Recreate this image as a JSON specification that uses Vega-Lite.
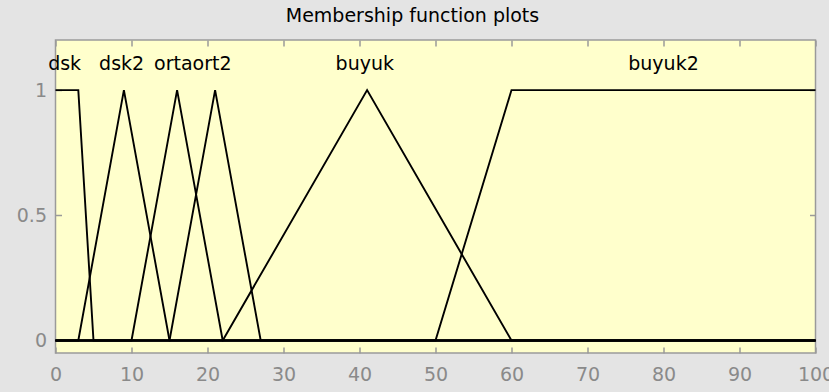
{
  "$schema": "https://vega.github.io/schema/vega-lite/v6.json",
  "width": 760,
  "height": 313,
  "autosize": {"type": "none"},
  "padding": {"left": 55.5, "top": 40, "right": 13.5, "bottom": 39},
  "background": "#e4e4e4",
  "title": {
    "text": "Membership function plots",
    "font": "DejaVu Sans",
    "fontSize": 19,
    "fontWeight": "normal",
    "color": "#000000",
    "anchor": "middle",
    "baseline": "alphabetic",
    "offset": -2,
    "dx": -23
  },
  "config": {
    "font": "DejaVu Sans",
    "view": {"fill": "#ffffcc", "stroke": "#9a9a9a", "strokeWidth": 1.5}
  },
  "datasets": {
    "mf": [
      {"mf": "dsk", "x": 0, "y": 1},
      {"mf": "dsk", "x": 3, "y": 1},
      {"mf": "dsk", "x": 5, "y": 0},
      {"mf": "dsk", "x": 100, "y": 0},
      {"mf": "dsk2", "x": 0, "y": 0},
      {"mf": "dsk2", "x": 3, "y": 0},
      {"mf": "dsk2", "x": 9, "y": 1},
      {"mf": "dsk2", "x": 15, "y": 0},
      {"mf": "dsk2", "x": 100, "y": 0},
      {"mf": "orta", "x": 0, "y": 0},
      {"mf": "orta", "x": 10, "y": 0},
      {"mf": "orta", "x": 16, "y": 1},
      {"mf": "orta", "x": 22, "y": 0},
      {"mf": "orta", "x": 100, "y": 0},
      {"mf": "ort2", "x": 0, "y": 0},
      {"mf": "ort2", "x": 15, "y": 0},
      {"mf": "ort2", "x": 21, "y": 1},
      {"mf": "ort2", "x": 27, "y": 0},
      {"mf": "ort2", "x": 100, "y": 0},
      {"mf": "buyuk", "x": 0, "y": 0},
      {"mf": "buyuk", "x": 22, "y": 0},
      {"mf": "buyuk", "x": 41, "y": 1},
      {"mf": "buyuk", "x": 60, "y": 0},
      {"mf": "buyuk", "x": 100, "y": 0},
      {"mf": "buyuk2", "x": 0, "y": 0},
      {"mf": "buyuk2", "x": 50, "y": 0},
      {"mf": "buyuk2", "x": 60, "y": 1},
      {"mf": "buyuk2", "x": 100, "y": 1}
    ],
    "labels": [
      {"mf": "dsk", "x": 1.2},
      {"mf": "dsk2", "x": 8.7},
      {"mf": "orta", "x": 15.5},
      {"mf": "ort2", "x": 20.6},
      {"mf": "buyuk", "x": 40.7},
      {"mf": "buyuk2", "x": 80}
    ]
  },
  "layer": [
    {
      "data": {"name": "mf"},
      "mark": {"type": "line", "color": "#000000", "strokeWidth": 1.9},
      "encoding": {
        "x": {
          "field": "x",
          "type": "quantitative",
          "scale": {"domain": [0, 100], "nice": false, "zero": false},
          "axis": {
            "orient": "bottom",
            "title": null,
            "values": [0, 10, 20, 30, 40, 50, 60, 70, 80, 90, 100],
            "domain": false,
            "grid": false,
            "tickSize": -6,
            "tickColor": "#9a9a9a",
            "tickWidth": 1.5,
            "labelColor": "#8a8a8a",
            "labelFont": "DejaVu Sans",
            "labelFontSize": 19,
            "labelPadding": 18,
            "labelFlush": false,
            "labelOverlap": false
          }
        },
        "y": {
          "field": "y",
          "type": "quantitative",
          "scale": {"domain": [-0.05, 1.2], "nice": false, "zero": false},
          "axis": {
            "orient": "left",
            "title": null,
            "values": [0, 0.5, 1],
            "format": "~g",
            "domain": false,
            "grid": false,
            "tickSize": -6,
            "tickColor": "#9a9a9a",
            "tickWidth": 1.5,
            "labelColor": "#8a8a8a",
            "labelFont": "DejaVu Sans",
            "labelFontSize": 19,
            "labelPadding": 15,
            "labelOverlap": false
          }
        },
        "detail": {"field": "mf"}
      }
    },
    {
      "data": {"name": "labels"},
      "mark": {"type": "text", "color": "#000000", "font": "DejaVu Sans", "fontSize": 19, "align": "center", "baseline": "alphabetic"},
      "encoding": {
        "x": {
          "field": "x",
          "type": "quantitative",
          "axis": {
            "orient": "top",
            "title": null,
            "values": [0, 10, 20, 30, 40, 50, 60, 70, 80, 90, 100],
            "domain": false,
            "grid": false,
            "labels": false,
            "tickSize": -6,
            "tickColor": "#9a9a9a",
            "tickWidth": 1.5
          }
        },
        "y": {
          "datum": 1.08,
          "type": "quantitative",
          "axis": {
            "orient": "right",
            "title": null,
            "values": [0, 0.5, 1],
            "domain": false,
            "grid": false,
            "labels": false,
            "tickSize": -6,
            "tickColor": "#9a9a9a",
            "tickWidth": 1.5
          }
        },
        "text": {"field": "mf"}
      }
    }
  ],
  "resolve": {"axis": {"x": "independent", "y": "independent"}}
}
